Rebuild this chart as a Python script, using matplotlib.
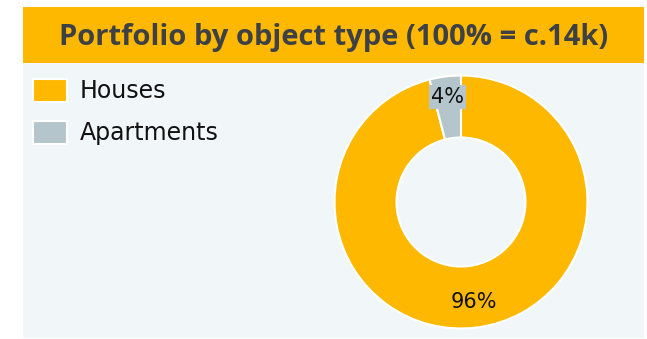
import matplotlib
matplotlib.use("Agg")
import matplotlib.pyplot as plt
from matplotlib.patches import Rectangle
import numpy as np

categories = ["Houses", "Apartments"]
shares = [96, 4]
labels = ["96%", "4%"]
title = "Portfolio by object type (100% = c.14k)"

c_orange = "#FFB800"
c_gray = "#B5C5CC"
c_bg = "#F1F6F9"
c_title = "#3D4145"

W, H = 647, 339
fig = plt.figure(figsize=(W / 100, H / 100), dpi=100)
fig.patch.set_facecolor("white")

def fx(px): return px / W
def fy(py): return 1 - py / H

# background panel axes
bg = fig.add_axes([0, 0, 1, 1], zorder=0)
bg.set_xlim(0, W)
bg.set_ylim(H, 0)
bg.axis("off")
bg.add_patch(Rectangle((23, 63), 644 - 23, 338 - 63, facecolor=c_bg, edgecolor="none"))
bg.add_patch(Rectangle((23, 7), 644 - 23, 63 - 7, facecolor=c_orange, edgecolor="none"))
bg.text(334, 37, title, ha="center", va="center", fontsize=21,
        fontweight="bold", color=c_title, family="Open Sans")

# legend
for i, (cat, col) in enumerate(zip(categories, [c_orange, c_gray])):
    top = 79 + i * 42
    bg.add_patch(Rectangle((33, top), 34, 23, facecolor=col, edgecolor="white", linewidth=1.5))
    bg.text(80, top + 12, cat, ha="left", va="center", fontsize=17, color="#111111")

# donut
cx, cy, R = 461, 202, 127
ax = fig.add_axes([fx(cx - R - 2), fy(cy + R + 2), (2 * R + 4) / W, (2 * R + 4) / H], zorder=2)
ax.set_aspect("equal")
ax.axis("off")
ax.patch.set_alpha(0)
wedges, texts = ax.pie(shares, colors=[c_orange, c_gray], startangle=90, counterclock=False,
                       radius=1.0, wedgeprops=dict(width=0.49, edgecolor="white", linewidth=1.5))
ax.set_xlim(-1.02, 1.02)
ax.set_ylim(-1.02, 1.02)
acc = 0
total = sum(shares)
for v, lab, col in zip(shares, labels, [c_orange, c_gray]):
    mid = 90 - (acc + v / 2) / total * 360
    acc += v
    r = 0.80 if v > 50 else 0.84
    x, y = r * np.cos(np.radians(mid)), r * np.sin(np.radians(mid))
    bbox = None if v > 50 else dict(boxstyle="square,pad=0.1", facecolor=col, edgecolor="none")
    ax.text(x, y, lab, ha="center", va="center", fontsize=15, color="#111111", bbox=bbox)

fig.savefig("out.png", dpi=100, facecolor="white")
